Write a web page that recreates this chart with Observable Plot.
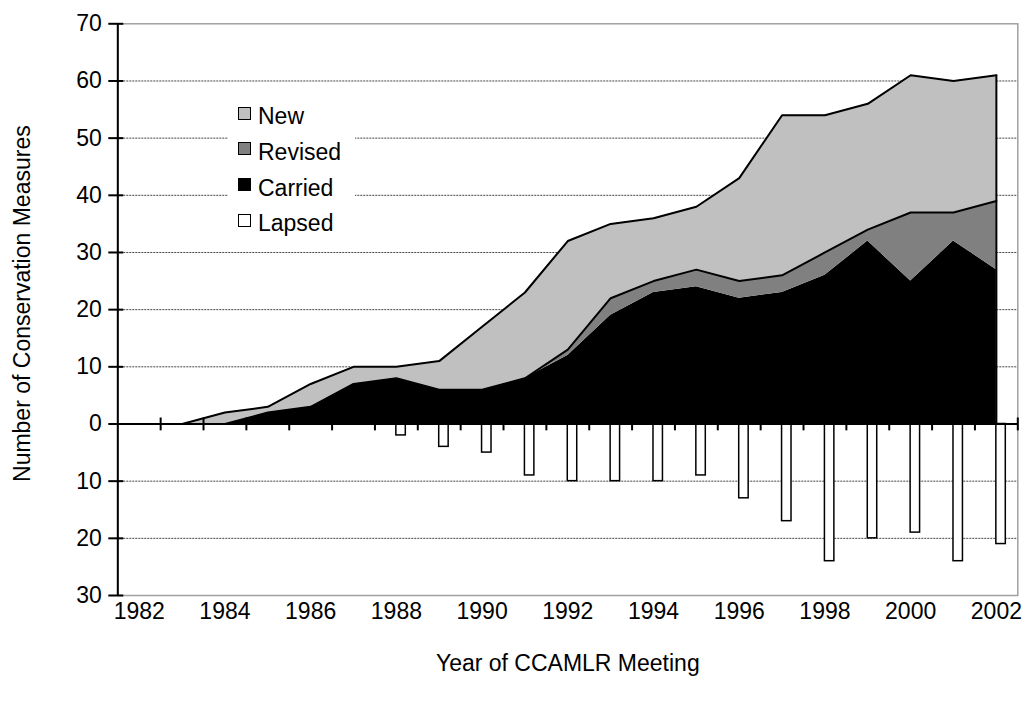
<!DOCTYPE html>
<html>
<head>
<meta charset="utf-8">
<script src="https://cdn.jsdelivr.net/npm/d3@7"></script>
<script src="https://cdn.jsdelivr.net/npm/@observablehq/plot@0.6"></script>
<style>
  body { margin: 0; background: #fff; font-family: "Liberation Sans", Arial, sans-serif; }
  #wrap { position: relative; width: 1026px; height: 702px; }
  #legend { position: absolute; left: 228px; top: 96px; width: 127px; height: 142px; background: #fff; }
  .sw { position: absolute; left: 10px; width: 13px; height: 13px; box-sizing: border-box; border: 1.5px solid #000; }
  .lab { position: absolute; left: 30px; font-size: 23px; line-height: 23px; color: #000; white-space: nowrap; }
</style>
</head>
<body>
<div id="wrap"><div id="chart"></div><div id="legend"></div></div>
<script>
const years = [1982,1983,1984,1985,1986,1987,1988,1989,1990,1991,1992,1993,1994,1995,1996,1997,1998,1999,2000,2001,2002];
const carried = [0,0,0,2,3,7,8,6,6,8,12,19,23,24,22,23,26,32,25,32,27];
const revised = [0,0,0,0,0,0,0,0,0,0,1,3,2,3,3,3,4,2,12,5,12];
const newMeasures = [0,0,2,1,4,3,2,5,11,15,19,13,11,11,18,28,24,22,24,23,22];
const lapsed = [0,0,0,0,0,0,2,4,5,9,10,10,10,9,13,17,24,20,19,24,21];
const yTicks = [-30,-20,-10,0,10,20,30,40,50,60,70];
const xLabelYears = [1982,1984,1986,1988,1990,1992,1994,1996,1998,2000,2002];
const seriesNames = ["New","Revised","Carried","Lapsed"];
const seriesColors = ["#c0c0c0","#808080","#000000","#ffffff"];
const yTitle = "Number of Conservation Measures";
const xTitle = "Year of CCAMLR Meeting";

const rows = years.map((year, i) => ({
  year,
  carried: carried[i],
  revTop: carried[i] + revised[i],
  total: carried[i] + revised[i] + newMeasures[i],
  lapsed: -lapsed[i]
}));
const boundaries = years.map(y => y + 0.5);
const gridVals = yTicks.filter(v => v !== 0 && v !== 70 && v !== -30);
const font = '"Liberation Sans", Arial, sans-serif';
const fs = 23;

const chart = Plot.plot({
  width: 1026,
  height: 702,
  marginLeft: 117.3,
  marginRight: 8.7,
  marginTop: 23.3,
  marginBottom: 107,
  style: { fontFamily: font, fontSize: fs + "px", color: "#000", background: "#fff" },
  x: { domain: [1981.5, 2002.5], axis: null },
  y: { domain: [-30, 70], axis: null },
  marks: [
    Plot.ruleY(gridVals, { stroke: "#444", strokeDasharray: "2,1", strokeWidth: 1 }),
    Plot.frame({ stroke: "#a0a0a0", strokeWidth: 1.5 }),
    Plot.areaY(rows, { x: "year", y1: 0, y2: "carried", fill: seriesColors[2] }),
    Plot.areaY(rows, { x: "year", y1: "carried", y2: "revTop", fill: seriesColors[1] }),
    Plot.areaY(rows, { x: "year", y1: "revTop", y2: "total", fill: seriesColors[0] }),
    Plot.line(rows, { x: "year", y: "revTop", stroke: "#000", strokeWidth: 2 }),
    Plot.line(rows, { x: "year", y: "total", stroke: "#000", strokeWidth: 2 }),
    Plot.ruleX(rows.slice(-1), { x: "year", y1: 0, y2: "total", stroke: "#000", strokeWidth: 2 }),
    Plot.rectY(rows.filter(d => d.lapsed < 0), {
      x1: d => d.year - 0.5, x2: d => d.year + 0.5, y1: 0, y2: "lapsed",
      insetLeft: 21.4, insetRight: 12, fill: seriesColors[3], stroke: "#000", strokeWidth: 1.5
    }),
    Plot.ruleY([0], { stroke: "#000", strokeWidth: 2 }),
    Plot.ruleX([1981.5], { stroke: "#000", strokeWidth: 2 }),
    Plot.ruleX(boundaries, { y1: -1.2, y2: 1.05, stroke: "#000", strokeWidth: 2 }),
    Plot.ruleY(yTicks, { x1: 1981.5 - 0.21, x2: 1981.5 + 0.14, stroke: "#000", strokeWidth: 2 }),
    Plot.text(yTicks, { x: 1981.5, y: d => d, text: d => String(Math.abs(d)), textAnchor: "end", lineAnchor: "middle", dx: -16, fontSize: fs, fill: "#000" }),
    Plot.text(xLabelYears, { x: d => d, frameAnchor: "bottom", textAnchor: "middle", lineAnchor: "top", dy: 7, text: d => String(d), fontSize: fs, fill: "#000" }),
    Plot.text([yTitle], { frameAnchor: "left", dx: -95, dy: -6, rotate: -90, textAnchor: "middle", lineAnchor: "middle", fontSize: fs, fill: "#000" }),
    Plot.text([xTitle], { frameAnchor: "bottom", dy: 68, textAnchor: "middle", lineAnchor: "middle", fontSize: fs, fill: "#000" })
  ]
});
document.getElementById("chart").appendChild(chart);

const legend = d3.select("#legend");
seriesNames.forEach((name, i) => {
  const top = 10.7 + i * 35.7;
  legend.append("div").attr("class", "sw").style("top", top + "px").style("background", seriesColors[i]);
  legend.append("div").attr("class", "lab").style("top", (top - 1.5) + "px").text(name);
});
</script>
</body>
</html>
